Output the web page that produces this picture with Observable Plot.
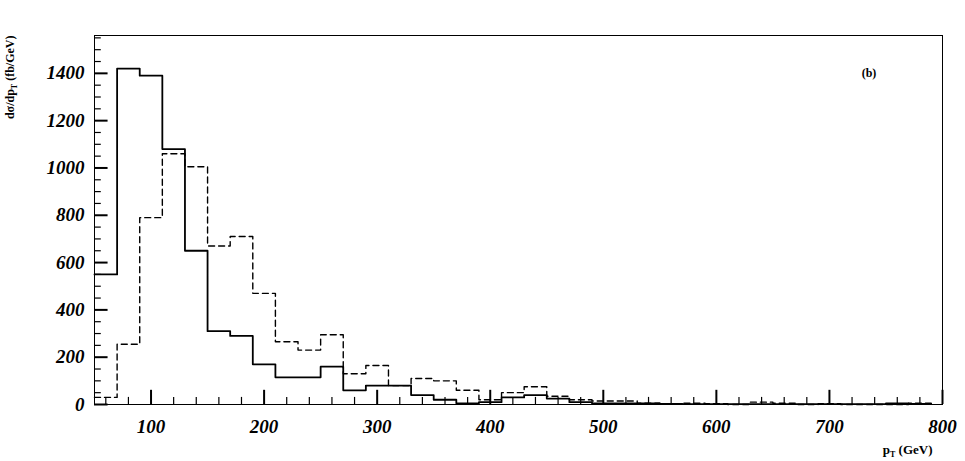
<!DOCTYPE html>
<html><head><meta charset="utf-8">
<script src="https://cdn.jsdelivr.net/npm/d3@7"></script>
<script src="https://cdn.jsdelivr.net/npm/@observablehq/plot@0.6"></script>
<style>body{margin:0;background:#fff} svg text{font-family:'Liberation Serif',serif;font-weight:bold}</style>
</head><body><div id="c"></div>
<script>
const binEdges = d3.range(50, 810, 20);
const solid = [550,1420,1390,1080,650,310,290,170,115,115,160,60,80,80,40,20,5,10,30,40,25,10,5,5,5,3,2,2,2,2,2,2,2,2,2,5,3,2];
const dashed = [30,255,790,1060,1005,670,710,470,265,230,295,130,165,80,110,100,60,20,50,75,35,20,15,15,5,3,5,3,0,10,5,0,3,0,0,0,5,0];
const xTicks = [100,200,300,400,500,600,700,800];
const yTicks = [0,200,400,600,800,1000,1200,1400];

function steps(v){const pts=[];for(let i=0;i<v.length;i++){pts.push({x:binEdges[i],y:v[i]});}pts.push({x:binEdges[v.length],y:v[v.length-1]});return pts;}
const s=steps(solid), d=steps(dashed);
const xMin=d3.range(60,800,20).filter(v=>v%100), yMin=d3.range(50,1560,50).filter(v=>v%200);
const chart = Plot.plot({
  width:965,height:461,marginLeft:94,marginRight:23,marginTop:35,marginBottom:57,
  x:{domain:[50,800],axis:null},
  y:{domain:[0,1560],axis:null},
  marks:[
    Plot.frame(),
    Plot.ruleX(xTicks,{y1:0,y2:60,strokeWidth:2,stroke:"black"}),
    Plot.ruleX(xMin,{y1:0,y2:30,strokeWidth:1.2,stroke:"black"}),
    Plot.ruleY(yTicks,{x1:50,x2:62,strokeWidth:2,stroke:"black"}),
    Plot.ruleY(yMin,{x1:50,x2:56,strokeWidth:1.2,stroke:"black"}),
    Plot.text(xTicks,{x:v=>v,y:()=>0,text:v=>String(v),dy:22,fontSize:19,fontStyle:"italic",fill:"black"}),
    Plot.text(yTicks,{x:()=>50,y:v=>v,text:v=>String(v),dx:-10,textAnchor:"end",fontSize:19,fontStyle:"italic",fill:"black"}),
    Plot.line(d,{x:"x",y:"y",curve:"step-after",strokeWidth:1.4,strokeDasharray:"6,4"}),
    Plot.line(s,{x:"x",y:"y",curve:"step-after",strokeWidth:1.8}),
    Plot.text(["(b)"],{x:()=>735,y:()=>1400,fontSize:12}),
    Plot.text(["pT (GeV)"],{x:()=>800,y:()=>0,dy:45,dx:-10,textAnchor:"end",fontSize:13,className:"xl"}),
    Plot.text(["dσ/dpT (fb/GeV)"],{x:()=>50,y:()=>1560,dx:-84,dy:0,rotate:-90,textAnchor:"end",fontSize:12,className:"yl"})
  ]
});
const ns="http://www.w3.org/2000/svg";
function sub(cls,pre,post){const t=chart.querySelector("."+cls+" text");if(!t)return;t.textContent="";
 const a=document.createElementNS(ns,"tspan");a.textContent=pre;
 const b=document.createElementNS(ns,"tspan");b.textContent="T";b.setAttribute("font-size","8");b.setAttribute("dy","3");
 const c=document.createElementNS(ns,"tspan");c.textContent=post;c.setAttribute("dy","-3");
 t.append(a,b,c);}
sub("xl","p"," (GeV)");
sub("yl","dσ/dp"," (fb/GeV)");
document.getElementById("c").append(chart);
</script></body></html>
